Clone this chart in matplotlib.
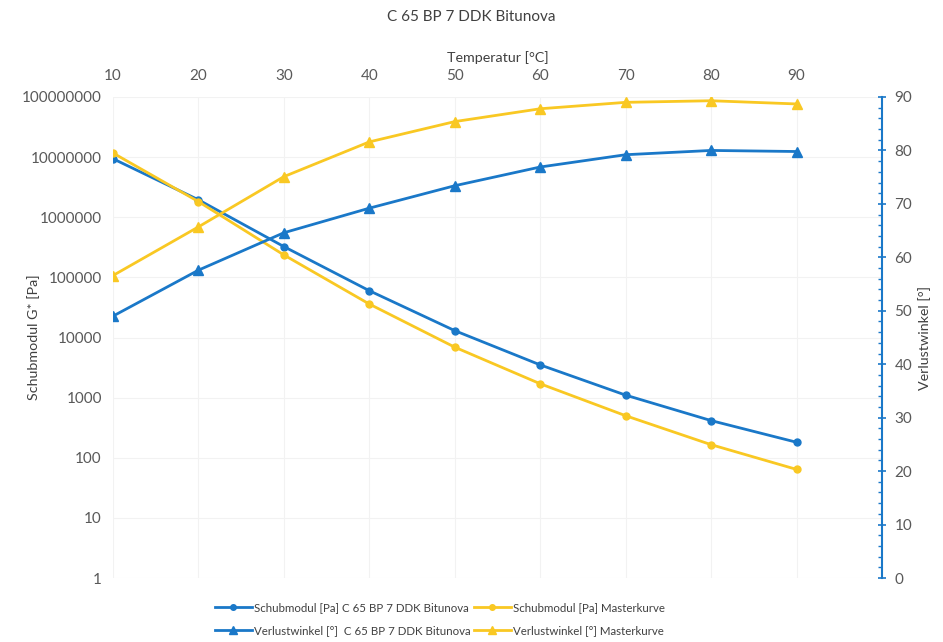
import numpy as np
import matplotlib
matplotlib.use("Agg")
import matplotlib.pyplot as plt
from matplotlib.ticker import FixedLocator, MultipleLocator, NullFormatter

plt.rcParams['font.family'] = ['Lato', 'DejaVu Sans']

# -------------------------------------------------------------
# Data
# -------------------------------------------------------------
temperatur = [10, 20, 30, 40, 50, 60, 70, 80, 90]
g_bitunova = [9.4e6, 1.95e6, 3.25e5, 6.0e4, 1.3e4, 3.5e3, 1.1e3, 415, 181]
g_master = [1.17e7, 1.82e6, 2.36e5, 3.6e4, 6.9e3, 1.7e3, 500, 165, 64]
phi_bitunova = [49.0, 57.6, 64.6, 69.2, 73.4, 76.9, 79.2, 80.0, 79.8]
phi_master = [56.6, 65.7, 75.1, 81.6, 85.4, 87.8, 89.0, 89.3, 88.7]

y_ticks = [1, 10, 100, 1000, 10000, 100000, 1000000, 10000000, 100000000]
y2_ticks = [0, 10, 20, 30, 40, 50, 60, 70, 80, 90]

BLUE = '#1a78c8'
YELLOW = '#f9c823'
GREY = '#595959'


def main():
    fig = plt.figure(figsize=(9.43, 6.42), dpi=100)
    ax = fig.add_axes([113 / 943, 1 - 578 / 642, (882 - 113) / 943, (578 - 97) / 642])
    ax2 = ax.twinx()

    # Schubmodul on the log axis
    l1, = ax.plot(temperatur, g_bitunova, color=BLUE, lw=2, marker='o', ms=5,
                  label='Schubmodul [Pa] C 65 BP 7 DDK Bitunova')
    l3, = ax.plot(temperatur, g_master, color=YELLOW, lw=2, marker='o', ms=5,
                  label='Schubmodul [Pa] Masterkurve')
    # Verlustwinkel on the right axis
    l2, = ax2.plot(temperatur, phi_bitunova, color=BLUE, lw=2, marker='^', ms=7,
                   label='Verlustwinkel [°]  C 65 BP 7 DDK Bitunova')
    l4, = ax2.plot(temperatur, phi_master, color=YELLOW, lw=2, marker='^', ms=7,
                   label='Verlustwinkel [°] Masterkurve')

    ax.set_yscale('log')
    ax.set_ylim(1, 1e8)
    ax.yaxis.set_major_locator(FixedLocator(y_ticks))
    ax.set_yticklabels([str(v) for v in y_ticks])
    ax.yaxis.set_minor_formatter(NullFormatter())
    ax.yaxis.set_minor_locator(FixedLocator([]))
    ax.set_xlim(10, 100)
    ax.set_xticks(temperatur)
    ax.xaxis.tick_top()
    ax.xaxis.set_label_position('top')
    ax.set_xlabel('Temperatur [°C]', fontsize=10.3, color='#404040', labelpad=5)
    ax.set_ylabel('Schubmodul G* [Pa]', fontsize=10.3, color='#404040')
    ax.yaxis.set_label_coords((40 - 113) / 769, 0.5)
    ax.tick_params(axis='both', which='both', length=0, labelsize=11, colors=GREY, pad=8)
    ax.tick_params(axis='x', pad=10)
    ax.grid(True, color='#f2f2f2', lw=0.8)
    ax.set_axisbelow(True)
    for s in ax.spines.values():
        s.set_visible(False)

    ax2.set_ylim(0, 90)
    ax2.set_yticks(y2_ticks)
    ax2.yaxis.set_minor_locator(MultipleLocator(2))
    ax2.tick_params(axis='y', which='major', length=6, direction='inout', color=BLUE,
                    width=1.2, labelsize=11, labelcolor=GREY, pad=6)
    ax2.tick_params(axis='y', which='minor', length=3, direction='in', color=BLUE, width=1)
    ax2.set_ylabel('Verlustwinkel [°]', fontsize=10.3, color='#404040')
    ax2.yaxis.set_label_coords((918 - 113) / 769, 0.5)
    for name, s in ax2.spines.items():
        s.set_visible(name == 'right')
    ax2.spines['right'].set_color(BLUE)
    ax2.spines['right'].set_linewidth(1.5)

    fig.text(0.5, 1 - 17 / 642, 'C 65 BP 7 DDK Bitunova', ha='center', va='center',
             fontsize=11, color='#404040')

    fig.legend([l1, l2, l3, l4], [h.get_label() for h in [l1, l2, l3, l4]],
               ncol=2, loc='center', bbox_to_anchor=(440 / 943, 1 - 619 / 642),
               frameon=False, fontsize=8.3, handlelength=3.2, columnspacing=0.3,
               handletextpad=0.2, labelspacing=1.0, labelcolor='#404040',
               markerscale=0.8)

    fig.savefig('out.png', dpi=100)
    plt.close(fig)


if __name__ == "__main__":
    main()
